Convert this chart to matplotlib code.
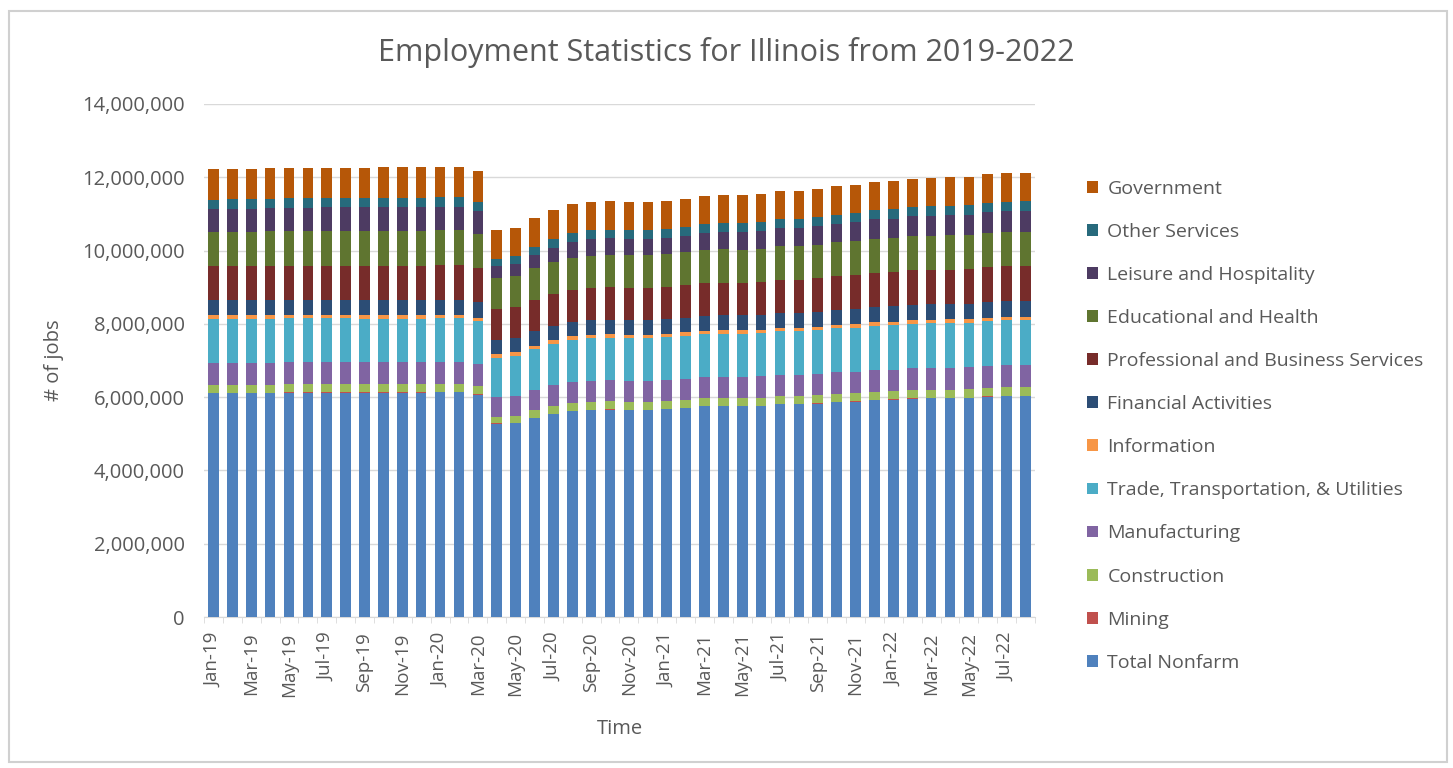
import matplotlib
matplotlib.use("Agg")
import matplotlib.pyplot as plt
from matplotlib.patches import Rectangle
from matplotlib.ticker import FuncFormatter
import numpy as np

months = ["Jan-19", "Feb-19", "Mar-19", "Apr-19", "May-19", "Jun-19", "Jul-19", "Aug-19",
          "Sep-19", "Oct-19", "Nov-19", "Dec-19",
          "Jan-20", "Feb-20", "Mar-20", "Apr-20", "May-20", "Jun-20", "Jul-20", "Aug-20",
          "Sep-20", "Oct-20", "Nov-20", "Dec-20",
          "Jan-21", "Feb-21", "Mar-21", "Apr-21", "May-21", "Jun-21", "Jul-21", "Aug-21",
          "Sep-21", "Oct-21", "Nov-21", "Dec-21",
          "Jan-22", "Feb-22", "Mar-22", "Apr-22", "May-22", "Jun-22", "Jul-22", "Aug-22"]

# values in thousands of jobs
total_nonfarm = [6100, 6100, 6100, 6110, 6120, 6120, 6120, 6120, 6120, 6120, 6120, 6120,
                 6130, 6130, 6070, 5280, 5300, 5430, 5540, 5620, 5650, 5660, 5650, 5650,
                 5670, 5700, 5745, 5745, 5745, 5760, 5800, 5800, 5825, 5865, 5880, 5920,
                 5930, 5960, 5970, 5970, 5980, 6015, 6035, 6035]
mining = [9, 9, 9, 9, 9, 9, 9, 9, 9, 9, 9, 9,
          9, 9, 9, 8, 8, 8, 8, 8, 8, 8, 8, 8,
          8, 8, 8, 8, 8, 8, 8, 8, 8, 8, 8, 8,
          8, 8, 8, 8, 8, 8, 8, 8]
construction = [224, 225, 226, 226, 227, 227, 228, 227, 228, 228, 229, 229,
                230, 231, 228, 165, 185, 205, 212, 215, 217, 218, 218, 217,
                218, 219, 220, 221, 221, 222, 222, 223, 223, 224, 224, 225,
                225, 226, 226, 227, 227, 228, 228, 228]
manufacturing = [598, 598, 597, 597, 596, 596, 595, 595, 594, 594, 593, 592,
                 592, 591, 588, 545, 548, 558, 563, 566, 568, 570, 571, 572,
                 573, 574, 575, 576, 577, 578, 579, 580, 581, 582, 584, 586,
                 588, 590, 592, 593, 594, 595, 596, 597]
trade = [1200, 1200, 1199, 1198, 1198, 1197, 1197, 1196, 1195, 1195, 1194, 1194,
         1193, 1192, 1180, 1075, 1090, 1115, 1135, 1155, 1160, 1165, 1165, 1164,
         1166, 1170, 1176, 1178, 1175, 1178, 1185, 1185, 1190, 1195, 1200, 1212,
         1214, 1218, 1220, 1221, 1222, 1226, 1230, 1231]
information = [101, 101, 100, 100, 100, 100, 99, 99, 99, 99, 98, 98,
               98, 98, 97, 92, 91, 91, 92, 92, 92, 93, 93, 93,
               93, 94, 94, 95, 95, 95, 96, 96, 97, 97, 98, 98,
               99, 100, 100, 100, 101, 101, 101, 101]
financial = [409, 409, 410, 410, 410, 411, 411, 411, 411, 412, 412, 412,
             412, 413, 412, 397, 397, 399, 400, 401, 402, 403, 403, 404,
             405, 405, 406, 406, 407, 407, 408, 408, 409, 410, 411, 412,
             412, 413, 413, 414, 414, 415, 415, 416]
professional = [925, 927, 928, 929, 930, 931, 932, 932, 933, 933, 934, 935,
                936, 937, 930, 835, 838, 850, 855, 868, 872, 876, 878, 880,
                884, 888, 894, 898, 895, 898, 910, 905, 910, 925, 930, 936,
                940, 945, 948, 950, 952, 956, 960, 962]
education = [940, 941, 942, 943, 944, 945, 946, 947, 948, 949, 950, 951,
             952, 953, 945, 845, 850, 860, 878, 880, 890, 893, 895, 896,
             898, 900, 903, 905, 905, 905, 912, 914, 916, 918, 920, 923,
             925, 928, 930, 931, 933, 936, 938, 940]
leisure = [632, 634, 635, 636, 637, 638, 639, 640, 641, 642, 643, 644,
           645, 646, 615, 330, 330, 360, 400, 440, 455, 450, 440, 430,
           435, 450, 470, 478, 470, 480, 495, 490, 500, 510, 515, 530,
           532, 545, 548, 550, 552, 562, 570, 572]
other_services = [253, 253, 254, 254, 254, 255, 255, 255, 256, 256, 256, 257,
                  257, 258, 254, 195, 205, 222, 230, 234, 236, 237, 236, 235,
                  236, 237, 239, 240, 241, 242, 243, 244, 245, 246, 247, 248,
                  249, 250, 250, 251, 251, 252, 253, 253]
government = [828, 829, 829, 830, 830, 831, 831, 831, 832, 832, 832, 833,
              833, 834, 832, 800, 785, 780, 785, 780, 775, 770, 770, 768,
              768, 770, 772, 772, 773, 770, 770, 772, 772, 773, 774, 775,
              776, 778, 779, 780, 781, 782, 783, 784]

series_names = ["Total Nonfarm", "Mining", "Construction", "Manufacturing",
                "Trade, Transportation, & Utilities", "Information", "Financial Activities",
                "Professional and Business Services", "Educational and Health",
                "Leisure and Hospitality", "Other Services", "Government"]
series_values = [total_nonfarm, mining, construction, manufacturing, trade, information,
                 financial, professional, education, leisure, other_services, government]
colors = ["#4F81BD", "#C0504D", "#9BBB59", "#8064A2", "#4BACC6", "#F79646",
          "#2C4D75", "#772C2A", "#5F7530", "#4D3B62", "#276A7C", "#B65708"]

plt.rcParams['font.family'] = ['Open Sans', 'DejaVu Sans']
text_col = "#595959"

fig = plt.figure(figsize=(14.53, 7.68), dpi=100)
fig.patches.append(Rectangle((0.006, 0.008), 0.99, 0.978, transform=fig.transFigure,
                             fill=False, edgecolor="#D0D0D0", linewidth=1.5))
ax = fig.add_axes([0.1404, 0.1966, 0.5719, 0.668])

x = np.arange(len(months))
bottom = np.zeros(len(months))
handles = []
for name, vals, col in zip(series_names, series_values, colors):
    v = np.array(vals) * 1000
    b = ax.bar(x, v, width=0.56, bottom=bottom, color=col, label=name, zorder=3)
    handles.append(b)
    bottom = bottom + v

ax.set_xlim(-0.5, len(months) - 0.5)
ax.set_ylim(0, 14000000)
ax.set_yticks(np.arange(0, 14000001, 2000000))
ax.yaxis.set_major_formatter(FuncFormatter(lambda v, p: "{:,.0f}".format(v)))
ax.grid(axis='y', color="#D9D9D9", linewidth=1, zorder=0)
ax.set_xticks(x[::2])
ax.set_xticklabels(months[::2], rotation=90)
ax.set_xticks(np.arange(-0.5, len(months), 1), minor=True)
ax.tick_params(axis='x', which='major', length=0, pad=11, labelsize=13.5, labelcolor=text_col)
ax.tick_params(axis='x', which='minor', length=4, color="#D9D9D9")
ax.tick_params(axis='y', length=0, pad=14, labelsize=14.5, labelcolor=text_col)
for s in ['top', 'right', 'left']:
    ax.spines[s].set_visible(False)
ax.spines['bottom'].set_color("#D9D9D9")

ax.set_xlabel("Time", fontsize=14.5, color=text_col)
ax.xaxis.set_label_coords(0.5, -0.198)
ax.set_ylabel("# of jobs", fontsize=14.5, color=text_col)
ax.yaxis.set_label_coords(-0.168, 0.5)
fig.text(0.5, 0.932, "Employment Statistics for Illinois from 2019-2022", ha='center',
         va='center', fontsize=22, color=text_col)

leg = fig.legend(handles[::-1], series_names[::-1], loc='upper left',
                 bbox_to_anchor=(0.7412, 0.7786), frameon=False, fontsize=14,
                 borderpad=0, labelspacing=1.29, handlelength=0.56, handleheight=0.56,
                 handletextpad=0.5, labelcolor=text_col)

fig.savefig("out.png", dpi=100)
